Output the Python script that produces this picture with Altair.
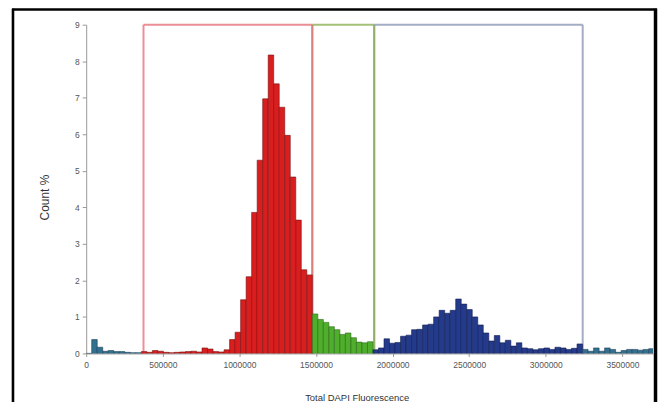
import altair as alt
import pandas as pd

# ---- data ----
BIN_WIDTH = 36000  # fluorescence units per histogram bin
counts_pct = [
    0.00, 0.38, 0.17, 0.06, 0.08, 0.05, 0.05, 0.03, 0.02, 0.02,
    0.05, 0.03, 0.08, 0.06, 0.03, 0.02, 0.03, 0.04, 0.05, 0.06,
    0.04, 0.15, 0.12, 0.05, 0.04, 0.10, 0.38, 0.58, 1.47, 2.10,
    3.86, 5.29, 6.97, 8.17, 7.38, 6.74, 5.97, 4.83, 3.65, 2.29,
    2.15, 1.08, 0.93, 0.85, 0.73, 0.65, 0.52, 0.56, 0.43, 0.31,
    0.29, 0.32, 0.10, 0.15, 0.40, 0.28, 0.30, 0.47, 0.50, 0.65,
    0.66, 0.78, 0.80, 1.00, 1.18, 1.10, 1.18, 1.49, 1.35, 1.20,
    1.00, 0.78, 0.56, 0.34, 0.49, 0.29, 0.36, 0.20, 0.29, 0.15,
    0.13, 0.10, 0.13, 0.15, 0.11, 0.17, 0.15, 0.11, 0.14, 0.26,
    0.11, 0.06, 0.15, 0.06, 0.15, 0.11, 0.03, 0.08, 0.11, 0.11,
    0.09, 0.11, 0.13, 0.06,
]

gate_names = ["G1", "G2", "G3"]
gate_start = [374000, 1476000, 1880000]
gate_end = [1476000, 1880000, 3241000]
gate_top = [9, 9, 9]
gate_line_colors = ["#e8707e", "#8fb055", "#8c98b4"]

gate_fill = {"G1": "#d81e1e", "G2": "#4fae2c", "G3": "#243a8a", "none": "#33708f"}
gate_edge = {"G1": "#7a1212", "G2": "#2a6a1a", "G3": "#121e52", "none": "#1d4258"}

x_ticks = [0, 500000, 1000000, 1500000, 2000000, 2500000, 3000000, 3500000]
y_ticks = [0, 1, 2, 3, 4, 5, 6, 7, 8, 9]

# ---- tables ----
rows = []
for i, v in enumerate(counts_pct):
    x0 = i * BIN_WIDTH
    x1 = x0 + BIN_WIDTH
    c = (x0 + x1) / 2
    g = "none"
    for n, a, b in zip(gate_names, gate_start, gate_end):
        if a <= c < b:
            g = n
    rows.append({"x0": x0, "x1": x1, "pct": v, "base": 0,
                 "fill": gate_fill[g], "edge": gate_edge[g]})
bars_df = pd.DataFrame(rows)

gates_df = pd.DataFrame({"gate": gate_names, "x0": gate_start, "x1": gate_end,
                         "top": gate_top, "base": [0, 0, 0], "color": gate_line_colors})
one = pd.DataFrame({"a": [0]})

FONT = "Liberation Sans"
xscale = alt.Scale(domain=[0, 3700000], nice=False, zero=False)
yscale = alt.Scale(domain=[0, 9], nice=False)

xaxis = alt.Axis(
    values=x_ticks, format="d", grid=False, title="Total DAPI Fluorescence",
    labelFontSize=8.5, labelColor="#555", labelFont=FONT, labelOverlap=False,
    tickColor="#999", domainColor="#999", tickSize=3, labelPadding=4,
    titleFontSize=9.5, titleFontWeight="normal", titleColor="#333", titleFont=FONT,
    titleX=271.5, titleY=39, labelFlush=False)
yaxis = alt.Axis(
    values=y_ticks, grid=False, title="Count %", labelOverlap=False,
    labelFontSize=8.5, labelColor="#555", labelFont=FONT,
    tickColor="#999", domainColor="#999", tickSize=4, labelPadding=3,
    titleFontSize=12, titleFontWeight="normal", titleColor="#333", titleFont=FONT,
    titleAngle=-90, titleX=-41.5, titleY=173, titleBaseline="middle", titleAlign="center")

bars = alt.Chart(bars_df).mark_rect(strokeWidth=0.6, clip=True).encode(
    x=alt.X("x0:Q", scale=xscale, axis=xaxis, title="Total DAPI Fluorescence"),
    x2="x1:Q",
    y=alt.Y("pct:Q", scale=yscale, axis=yaxis, title="Count %"),
    y2="base:Q",
    fill=alt.Fill("fill:N", scale=None),
    stroke=alt.Stroke("edge:N", scale=None),
)

gbase = alt.Chart(gates_df)
g_left = gbase.mark_rule(strokeWidth=2, strokeOpacity=0.8).encode(
    x=alt.X("x0:Q", scale=xscale, axis=xaxis, title="Total DAPI Fluorescence"),
    y=alt.Y("base:Q", scale=yscale, axis=yaxis, title="Count %"), y2="top:Q",
    color=alt.Color("color:N", scale=None))
g_right = gbase.mark_rule(strokeWidth=2, strokeOpacity=0.8).encode(
    x=alt.X("x1:Q", scale=xscale, axis=xaxis, title="Total DAPI Fluorescence"),
    y=alt.Y("base:Q", scale=yscale, axis=yaxis, title="Count %"), y2="top:Q",
    color=alt.Color("color:N", scale=None))
g_top = gbase.mark_rule(strokeWidth=2, strokeOpacity=0.8).encode(
    x=alt.X("x0:Q", scale=xscale, axis=xaxis, title="Total DAPI Fluorescence"), x2="x1:Q",
    y=alt.Y("top:Q", scale=yscale, axis=yaxis, title="Count %"),
    color=alt.Color("color:N", scale=None))

# surrounding black panel frame of the figure
frame_top = alt.Chart(one).mark_rule(color="black", strokeWidth=2.6).encode(
    x=alt.value(-74.5), x2=alt.value(573), y=alt.value(-15.3))
frame_left = alt.Chart(one).mark_rule(color="black", strokeWidth=2.6).encode(
    x=alt.value(-73.5), y=alt.value(-16), y2=alt.value(400))
frame_right = alt.Chart(one).mark_rule(color="black", strokeWidth=3.5).encode(
    x=alt.value(571.5), y=alt.value(-16), y2=alt.value(400))

chart = alt.layer(
    g_left, g_right, g_top, bars, frame_top, frame_left, frame_right
).properties(
    width=569, height=330,
    padding={"left": 78.5, "top": 16, "right": 5, "bottom": 48},
    autosize=alt.AutoSizeParams(type="none"),
    background="white",
).configure_view(strokeWidth=0)

chart.save("out.html", embed_options={"renderer": "svg", "actions": False})
